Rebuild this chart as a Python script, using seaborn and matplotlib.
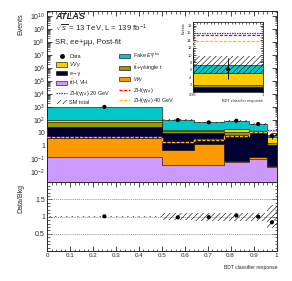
import numpy as np
import pandas as pd
import matplotlib
matplotlib.use("Agg")
import matplotlib.pyplot as plt
import seaborn as sns
from matplotlib.lines import Line2D
from matplotlib.patches import Patch
from matplotlib.ticker import LogLocator, FixedLocator, MultipleLocator, FuncFormatter, NullFormatter

# ---------------- data ----------------
edges = [0.0, 0.5, 0.64, 0.77, 0.88, 0.96, 1.0]
ttH_VH = [0.15, 0.035, 0.035, 0.062, 0.094, 0.026]
W_gamma = [3.75, 0.455, 1.3, 0.003, 0.04, 0.001]
e_gamma = [27.0, 8.9, 8.65, 6.9, 10.5, 1.17]
tt_gamma = [40.0, 4.0, 3.0, 4.0, 2.0, 0.6]
VV_gamma = [35.0, 3.6, 3.0, 8.0, 2.4, 3.4]
fake_met = [890.0, 83.0, 50.0, 65.0, 34.0, 2.1]
data = [1005.0, 98.0, 65.0, 87.0, 49.0, 6.1]
syst_rel = [0.01, 0.10, 0.12, 0.12, 0.12, 0.33]
sig_ZH = [5.0, 2.1, 3.3, 6.2, 13.0, 15.4]
sig_ZH20 = [5.2, 2.2, 3.4, 6.4, 13.5, 15.9]
sig_ZH40 = [4.6, 2.0, 3.1, 5.8, 12.0, 13.8]
ratio_ticks = [0.5, 1.0, 1.5]

# ---------------- style ----------------
sns.set_style("ticks")
plt.rcParams['font.family'] = ['Liberation Sans', 'DejaVu Sans']
plt.rcParams['mathtext.fontset'] = 'custom'
plt.rcParams['mathtext.rm'] = 'Liberation Sans'
plt.rcParams['mathtext.it'] = 'Liberation Sans:italic'
plt.rcParams['mathtext.bf'] = 'Liberation Sans:bold'
plt.rcParams['hatch.linewidth'] = 0.4
for a in ('x', 'y'):
    plt.rcParams[f'{a}tick.direction'] = 'in'
    plt.rcParams[f'{a}tick.major.width'] = 0.6
    plt.rcParams[f'{a}tick.minor.width'] = 0.5
    plt.rcParams[f'{a}tick.major.size'] = 3.5
    plt.rcParams[f'{a}tick.minor.size'] = 1.8
    plt.rcParams[f'{a}tick.major.pad'] = 1.5

C_FAKE = '#00C8C8'
C_VV = '#FFCC00'
C_EG = '#000033'
C_TT = '#999900'
C_W = '#FF9900'
C_TTH = '#CC99FF'
C_Z = '#FF0000'
C_Z20 = '#3333FF'
C_Z40 = '#FFC000'

edges_a = np.array(edges)
centers = list(0.5 * (edges_a[1:] + edges_a[:-1]))
procs = [ttH_VH, W_gamma, e_gamma, tt_gamma, VV_gamma, fake_met]
pcols = [C_TTH, C_W, C_EG, C_TT, C_VV, C_FAKE]
cum = np.cumsum(np.array(procs), axis=0)
total = cum[-1]
unc = total * np.array(syst_rel)

fig = plt.figure(figsize=(2.92, 2.81), dpi=100)
ax = fig.add_axes([0.161, 0.3512, 0.786, 0.6097])
rax = fig.add_axes([0.161, 0.1068, 0.786, 0.2444])
ins = fig.add_axes([0.661, 0.673, 0.240, 0.249])


def draw_stack(a):
    for k in reversed(range(len(procs))):
        df = pd.DataFrame({'x': centers, 'w': list(cum[k])})
        sns.histplot(data=df, x='x', weights='w', bins=list(edges), element='step', fill=True,
                     color=pcols[k], alpha=1, edgecolor='black', linewidth=0.4, ax=a)
    ext_lo = np.r_[total - unc, (total - unc)[-1]]
    ext_hi = np.r_[total + unc, (total + unc)[-1]]
    a.fill_between(edges, ext_lo, ext_hi, step='post', facecolor='none',
                   edgecolor='black', hatch='//////', linewidth=0, zorder=4)
    for s, c, ls in ((sig_ZH20, C_Z20, (0, (1.2, 0.8))), (sig_ZH, C_Z, (0, (2.5, 1.2))),
                     (sig_ZH40, C_Z40, (0, (2.5, 1.2)))):
        sns.lineplot(x=edges, y=list(s) + [s[-1]], drawstyle='steps-post', color=c,
                     linestyle=ls, linewidth=0.9, ax=a, zorder=5)


# ---------------- main panel ----------------
ax.set_yscale('log')
draw_stack(ax)
derr = np.sqrt(np.array(data))
ax.errorbar(centers, data, yerr=derr, fmt='none', ecolor='black', elinewidth=0.6, zorder=6)
sns.scatterplot(x=centers, y=data, color='black', s=9, edgecolor='none', ax=ax, zorder=7)
ax.set_xlim(0, 1)
ax.set_ylim(1.6e-3, 2.4e10)
ax.yaxis.set_major_locator(FixedLocator([10.0 ** n for n in range(-2, 11)]))


def logfmt(v, pos):
    n = int(round(np.log10(v)))
    if n == 0:
        return '1'
    if n == 1:
        return '10'
    return r'$10^{%d}$' % n


ax.yaxis.set_major_formatter(FuncFormatter(logfmt))
ax.yaxis.set_minor_locator(LogLocator(base=10, subs=np.arange(2, 10), numticks=200))
ax.yaxis.set_minor_formatter(NullFormatter())
ax.xaxis.set_major_locator(MultipleLocator(0.1))
ax.xaxis.set_minor_locator(MultipleLocator(0.02))
ax.tick_params(which='both', top=True, right=True, labelbottom=False, labelsize=5)
ax.set_xlabel('')
ax.set_ylabel('')
for s in ax.spines.values():
    s.set_linewidth(0.7)

# ---------------- inset ----------------
draw_stack(ins)
ins.errorbar([centers[-1]], [data[-1]], yerr=[[2.5], [3.0]], fmt='none', ecolor='black',
             elinewidth=0.6, zorder=6)
sns.scatterplot(x=[centers[-1]], y=[data[-1]], color='black', s=8, edgecolor='none',
                ax=ins, zorder=7)
ins.set_xlim(0.96, 1.0)
ins.set_ylim(0, 19)
ins.xaxis.set_major_locator(FixedLocator([0.96, 1.0]))
ins.xaxis.set_major_formatter(FuncFormatter(lambda v, p: '0.96' if v < 0.99 else '1'))
ins.xaxis.set_minor_locator(MultipleLocator(0.002))
ins.yaxis.set_major_locator(FixedLocator(list(range(2, 19, 2))))
ins.yaxis.set_minor_locator(MultipleLocator(0.5))
ins.tick_params(which='both', top=True, right=True, labelsize=2.8, pad=1)
ins.tick_params(which='major', length=2.2)
ins.tick_params(which='minor', length=1.1)
ins.set_xlabel('BDT classifier response', fontsize=2.8, labelpad=1, loc='right')
ins.set_ylabel('Events', fontsize=2.8, labelpad=1, loc='top')
for s in ins.spines.values():
    s.set_linewidth(0.6)

# ---------------- ratio panel ----------------
rlo = np.r_[1 - np.array(syst_rel), 1 - syst_rel[-1]]
rhi = np.r_[1 + np.array(syst_rel), 1 + syst_rel[-1]]
rax.fill_between(edges, rlo, rhi, step='post', facecolor='none', edgecolor='black',
                 hatch='//////', linewidth=0, zorder=3)
for t in ratio_ticks:
    rax.axhline(t, color='#999999', linestyle=(0, (1.5, 1)), linewidth=0.6, zorder=1)
ratio = np.array(data) / total
sns.scatterplot(x=centers, y=list(ratio), color='black', s=9, edgecolor='none', ax=rax, zorder=5)
rax.set_xlim(0, 1)
rax.set_ylim(0, 2)
rax.yaxis.set_major_locator(FixedLocator(ratio_ticks))
rax.yaxis.set_major_formatter(FuncFormatter(lambda v, p: '%g' % v))
rax.yaxis.set_minor_locator(MultipleLocator(0.1))
rax.xaxis.set_major_locator(MultipleLocator(0.1))
rax.xaxis.set_major_formatter(FuncFormatter(lambda v, p: '%g' % round(v, 1)))
rax.xaxis.set_minor_locator(MultipleLocator(0.02))
rax.tick_params(which='both', top=True, right=True, labelsize=4.5)
rax.tick_params(axis='y', labelsize=5)
rax.set_xlabel('')
rax.set_ylabel('')
for s in rax.spines.values():
    s.set_linewidth(0.7)

# ---------------- labels ----------------
fig.text(21 / 292, 1 - 13 / 281, 'Events', rotation=90, ha='center', va='top', fontsize=5)
fig.text(21 / 292, 1 - 184 / 281, 'Data/Bkg', rotation=90, ha='center', va='top', fontsize=5)
fig.text(277 / 292, 1 - 267 / 281, 'BDT classifier response', ha='right', va='center',
         fontsize=3.6)
fig.text(55 / 292, 1 - 16.5 / 281, 'ATLAS', fontsize=6.6, fontweight='bold', style='italic',
         va='center', ha='left')
fig.text(55 / 292, 1 - 29 / 281, r'$\sqrt{s}$ = 13 TeV, L = 139 fb$^{-1}$', fontsize=5.6,
         va='center', ha='left')
fig.text(55 / 292, 1 - 42 / 281, 'SR, ee+μμ, Post-fit', fontsize=5.6, va='center', ha='left')

# ---------------- legend ----------------
def box(c):
    return Patch(facecolor=c, edgecolor='black', linewidth=0.4)

h_data = Line2D([], [], color='black', marker='o', markersize=2.5, linestyle='none')
h_sm = Patch(facecolor='none', edgecolor='black', hatch='//////', linewidth=0)
h_z20 = Line2D([], [], color=C_Z20, linestyle=(0, (1.2, 0.8)), linewidth=0.9)
h_z = Line2D([], [], color=C_Z, linestyle=(0, (2.5, 1.2)), linewidth=0.9)
h_z40 = Line2D([], [], color=C_Z40, linestyle=(0, (2.5, 1.2)), linewidth=0.9)
handles = [h_data, box(C_VV), box(C_EG), box(C_TTH), h_z20, h_sm,
           box(C_FAKE), box(C_TT), box(C_W), h_z, h_z40]
labels = ['Data', r'$VV\gamma$', 'e→γ', r't$\bar{\rm t}$H, VH', r'ZH(γγ$_d$) 20 GeV', 'SM total',
          r'Fake $E_{\rm T}^{\rm miss}$', r't$\bar{\rm t}$+γ/single t', r'$W\gamma$',
          r'ZH(γγ$_d$)', r'ZH(γγ$_d$) 40 GeV']
fig.legend(handles, labels, ncol=2, loc='upper left', bbox_to_anchor=(56 / 292, 1 - 50.5 / 281),
           frameon=False, fontsize=4, handlelength=2.0, handleheight=0.8, handletextpad=0.4,
           labelspacing=0.32, columnspacing=1.6, borderpad=0, borderaxespad=0)

fig.savefig('out.png', dpi=100)
